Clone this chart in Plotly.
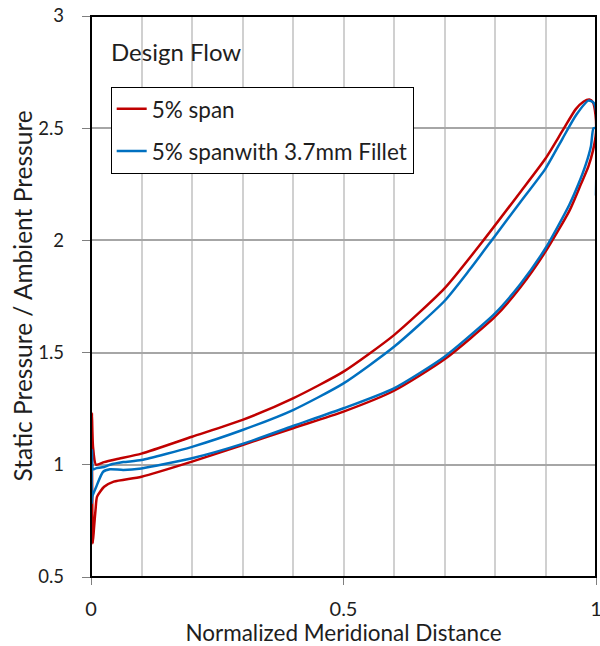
import plotly.graph_objects as go

# ---- data ----
# 5% span : pressure side (LE -> TE), suction side (TE -> LE), leading-edge spike
red_upper_x = [0.010, 0.026, 0.05, 0.10, 0.20, 0.30, 0.40, 0.50, 0.60, 0.70, 0.775, 0.85, 0.90, 0.934, 0.96, 0.975, 0.987, 0.994, 0.999]
red_upper_y = [1.000, 1.012, 1.025, 1.050, 1.125, 1.200, 1.296, 1.415, 1.578, 1.786, 1.994, 2.215, 2.365, 2.490, 2.585, 2.618, 2.628, 2.615, 2.560]
red_lower_x = [1.000, 0.994, 0.985, 0.97, 0.948, 0.90, 0.85, 0.80, 0.70, 0.60, 0.50, 0.40, 0.30, 0.20, 0.10, 0.045, 0.026, 0.012]
red_lower_y = [2.480, 2.400, 2.330, 2.25, 2.135, 1.950, 1.790, 1.660, 1.470, 1.330, 1.237, 1.163, 1.088, 1.014, 0.947, 0.925, 0.902, 0.858]
red_le_x = [0.009, 0.006, 0.0035, 0.0028, 0.002, 0.0018, 0.004, 0.010]
red_le_y = [0.800, 0.720, 0.650, 0.750, 1.000, 1.230, 1.080, 1.000]

# 5% span with 3.7mm fillet
blue_upper_x = [0.0095, 0.026, 0.0375, 0.064, 0.10, 0.20, 0.30, 0.40, 0.50, 0.60, 0.70, 0.75, 0.80, 0.85, 0.90, 0.934, 0.961, 0.985, 0.995, 1.000]
blue_upper_y = [0.984, 0.990, 1.000, 1.012, 1.021, 1.080, 1.155, 1.244, 1.363, 1.526, 1.730, 1.870, 2.020, 2.170, 2.320, 2.455, 2.560, 2.623, 2.614, 2.580]
blue_te_x = [1.000, 1.000]
blue_te_y = [2.200, 2.500]
blue_lower_x = [0.995, 0.990, 0.980, 0.965, 0.947, 0.90, 0.85, 0.80, 0.70, 0.60, 0.50, 0.40, 0.30, 0.20, 0.10, 0.064, 0.0375, 0.024]
blue_lower_y = [2.500, 2.420, 2.340, 2.250, 2.158, 1.965, 1.805, 1.675, 1.482, 1.341, 1.252, 1.173, 1.093, 1.029, 0.984, 0.977, 0.980, 0.969]
blue_le_x = [0.010, 0.0026, 0.0015, 0.002, 0.004, 0.0095]
blue_le_y = [0.900, 0.858, 0.830, 1.066, 0.980, 0.984]

series_names = ["5% span", "5% spanwith 3.7mm Fillet"]
x_ticks = [0, 0.5, 1]
x_tick_text = ["0", "0.5", "1"]
y_ticks = [0.5, 1, 1.5, 2, 2.5, 3]
y_tick_text = ["0.5", "1", "1.5", "2", "2.5", "3"]

RED = "#C00000"
BLUE = "#0070C0"
FONT = "Lato"
TXT = "#1e1e1e"
NBSP = "\u00a0"

red_x = red_upper_x + red_lower_x + red_le_x
red_y = red_upper_y + red_lower_y + red_le_y
blue_x = blue_upper_x + blue_te_x + blue_lower_x + blue_le_x
blue_y = blue_upper_y + blue_te_y + blue_lower_y + blue_le_y

fig = go.Figure()
fig.add_trace(go.Scatter(x=red_x, y=red_y, mode="lines", name=series_names[0],
                         legendgroup="a", line=dict(color=RED, width=2.5, shape="spline", smoothing=0.6)))
fig.add_trace(go.Scatter(x=blue_x, y=blue_y, mode="lines", name=series_names[1],
                         legendgroup="b", line=dict(color=BLUE, width=2.5, shape="spline", smoothing=0.6)))

fig.update_layout(
    width=600, height=646,
    margin=dict(l=91, r=4, t=16, b=69),
    paper_bgcolor="white", plot_bgcolor="white",
    font=dict(family=FONT, color=TXT),
    showlegend=True,
    legend=dict(x=0.039, y=0.874, xanchor="left", yanchor="top",
                bgcolor="white", bordercolor="black", borderwidth=1,
                font=dict(family=FONT, size=22.5, color=TXT),
                tracegroupgap=10),
    annotations=[
        dict(text="Design Flow", x=0.035, y=0.966, xref="paper", yref="paper",
             xanchor="left", yanchor="top", showarrow=False,
             font=dict(family=FONT, size=24, color=TXT)),
        dict(text="Static Pressure / Ambient Pressure", x=-0.1365, y=0.5, xref="paper", yref="paper",
             xanchor="center", yanchor="middle", textangle=-90, showarrow=False,
             font=dict(family=FONT, size=24.5, color=TXT)),
    ],
    shapes=[dict(type="rect", xref="paper", yref="paper", x0=0, y0=0, x1=1, y1=1,
                 line=dict(color="black", width=2), layer="above")],
)

fig.update_xaxes(
    range=[0, 1], tickmode="array", tickvals=x_ticks, ticktext=x_tick_text,
    ticks="outside", ticklen=7, tickcolor="#7f7f7f", tickwidth=1,
    tickfont=dict(family=FONT, size=20, color=TXT), ticklabelstandoff=7,
    ticklabeloverflow="allow", automargin=False,
    showgrid=True, gridcolor="#d0d0d0", gridwidth=1.5,
    minor=dict(dtick=0.1, showgrid=True, gridcolor="#d0d0d0", gridwidth=1.5),
    showline=False, zeroline=False,
    title=dict(text="Normalized Meridional Distance", font=dict(family=FONT, size=22.5, color=TXT), standoff=10),
)
fig.update_yaxes(
    range=[0.5, 3], tickmode="array", tickvals=y_ticks, ticktext=[t + NBSP * 3 for t in y_tick_text],
    ticks="outside", ticklen=8, tickcolor="#7f7f7f", tickwidth=1,
    tickfont=dict(family=FONT, size=18.5, color=TXT),
    automargin=False,
    showgrid=True, gridcolor="#a6a6a6", gridwidth=1.5,
    showline=False, zeroline=False,
)

fig.write_html("out.html")
